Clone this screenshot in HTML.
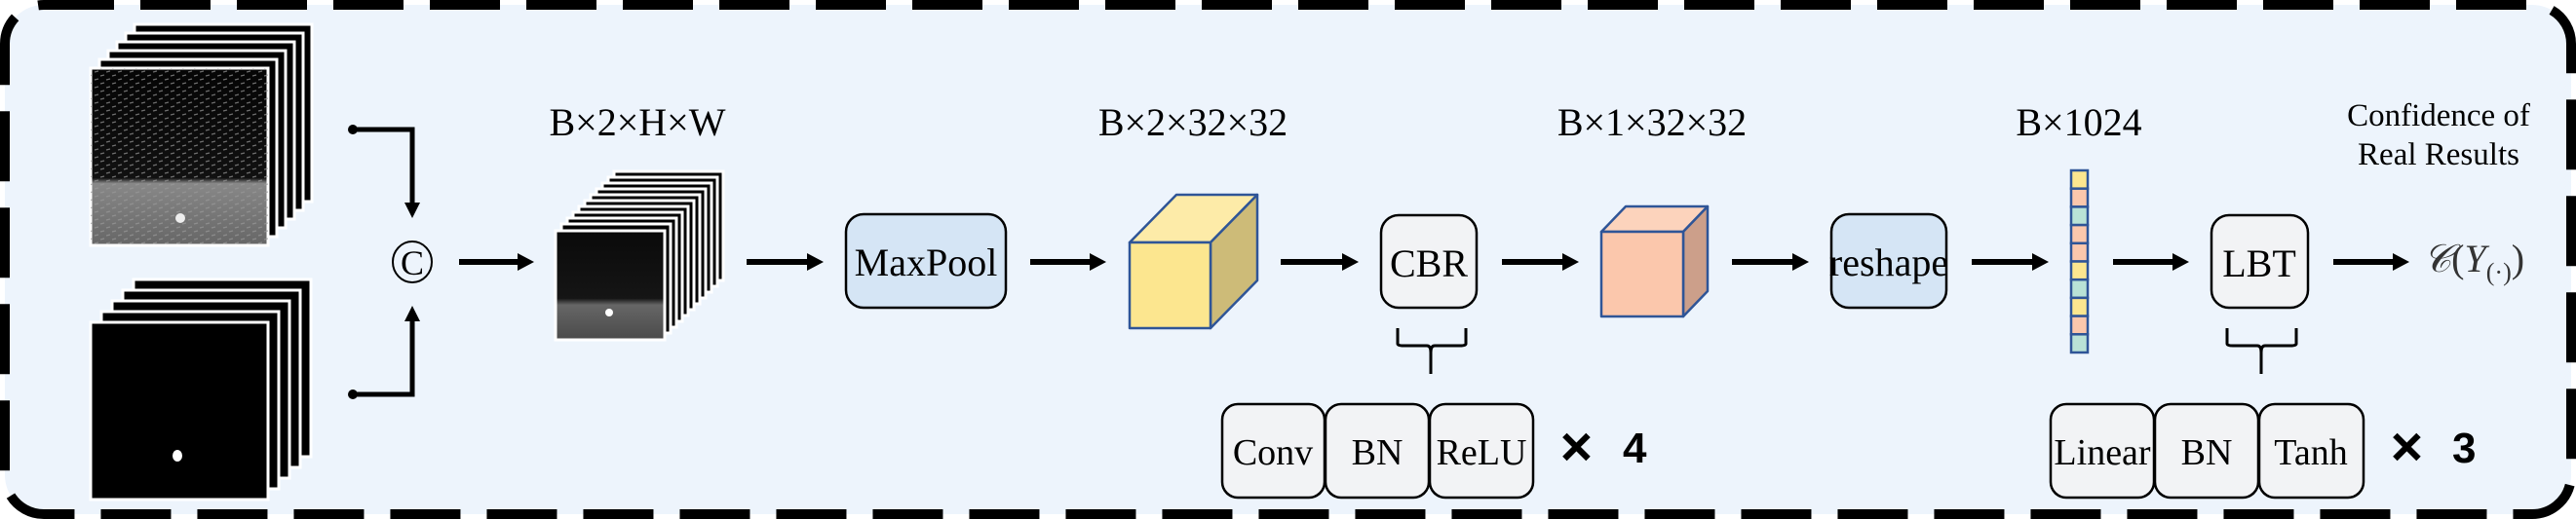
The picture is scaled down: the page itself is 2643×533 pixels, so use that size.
<!DOCTYPE html>
<html><head><meta charset="utf-8"><style>
html,body{margin:0;padding:0;background:#fff}
svg{display:block}
text{font-family:"Liberation Serif",serif;fill:#000}
</style></head><body>
<svg width="2643" height="533" viewBox="0 0 2643 533" xmlns="http://www.w3.org/2000/svg">
<defs>
<linearGradient id="g1" x1="0" y1="0" x2="0" y2="1">
<stop offset="0" stop-color="#050505"/><stop offset="0.62" stop-color="#111"/><stop offset="0.65" stop-color="#888"/><stop offset="1" stop-color="#666"/>
</linearGradient>
<linearGradient id="g2" x1="0" y1="0" x2="0" y2="1">
<stop offset="0" stop-color="#0a0a0a"/><stop offset="0.62" stop-color="#151515"/><stop offset="0.68" stop-color="#666"/><stop offset="1" stop-color="#4a4a4a"/>
</linearGradient>
<pattern id="tex" width="12" height="8" patternUnits="userSpaceOnUse">
<rect width="12" height="8" fill="none"/><path d="M1 2 L5 1 M7 6 L11 5" stroke="#999" stroke-width="1.2"/>
</pattern>
</defs>
<rect x="0" y="0" width="2643" height="533" fill="#fff"/>
<rect x="5" y="5" width="2633" height="523" rx="40" fill="#EDF4FC" stroke="#000" stroke-width="10" stroke-dasharray="72 27"/>

<!-- top stack -->
<g stroke="#fff" stroke-width="3" fill="#000">
<rect x="138" y="25" width="182" height="182"/>
<rect x="129" y="34" width="182" height="182"/>
<rect x="120" y="43" width="182" height="182"/>
<rect x="111" y="52" width="182" height="182"/>
<rect x="102" y="61" width="182" height="182"/>
<rect x="93" y="70" width="182" height="182" fill="url(#g1)"/>
</g>
<rect x="93" y="70" width="182" height="182" fill="url(#tex)" opacity="0.7"/>
<circle cx="185" cy="224" r="5" fill="#eee"/>

<!-- bottom stack -->
<g stroke="#fff" stroke-width="3" fill="#000">
<rect x="137" y="287" width="182" height="182"/>
<rect x="126" y="298" width="182" height="182"/>
<rect x="115" y="309" width="182" height="182"/>
<rect x="104" y="320" width="182" height="182"/>
<rect x="93" y="331" width="182" height="182"/>
</g>
<ellipse cx="182" cy="468" rx="5" ry="6" fill="#fff"/>

<!-- concat connectors -->
<g stroke="#000" stroke-width="5" fill="none">
<polyline points="362,133 423,133 423,210"/>
<polyline points="362,405 423,405 423,328"/>
</g>
<circle cx="362" cy="133" r="5"/><circle cx="362" cy="405" r="5"/>
<polygon points="415,208 431,208 423,224"/>
<polygon points="415,330 431,330 423,314"/>
<ellipse cx="423" cy="269" rx="20" ry="21" fill="none" stroke="#000" stroke-width="2"/>
<text x="423" y="282" font-size="36" text-anchor="middle">C</text>

<!-- arrows -->
<g stroke="#000" stroke-width="6">
<line x1="471" y1="269" x2="535" y2="269"/>
<line x1="766" y1="269" x2="832" y2="269"/>
<line x1="1057" y1="269" x2="1122" y2="269"/>
<line x1="1314" y1="269" x2="1381" y2="269"/>
<line x1="1541" y1="269" x2="1607" y2="269"/>
<line x1="1777" y1="269" x2="1843" y2="269"/>
<line x1="2023" y1="269" x2="2089" y2="269"/>
<line x1="2168" y1="269" x2="2233" y2="269"/>
<line x1="2394" y1="269" x2="2459" y2="269"/>
</g>
<g>
<polygon points="531,260 548,269 531,278"/>
<polygon points="828,260 845,269 828,278"/>
<polygon points="1118,260 1135,269 1118,278"/>
<polygon points="1377,260 1394,269 1377,278"/>
<polygon points="1603,260 1620,269 1603,278"/>
<polygon points="1839,260 1856,269 1839,278"/>
<polygon points="2085,260 2102,269 2085,278"/>
<polygon points="2229,260 2246,269 2229,278"/>
<polygon points="2455,260 2472,269 2455,278"/>
</g>

<!-- middle stack -->
<g stroke="#fff" stroke-width="3" fill="#000">
<rect x="630" y="176" width="112" height="112"/>
<rect x="624" y="182" width="112" height="112"/>
<rect x="618" y="188" width="112" height="112"/>
<rect x="612" y="194" width="112" height="112"/>
<rect x="606" y="200" width="112" height="112"/>
<rect x="600" y="206" width="112" height="112"/>
<rect x="594" y="212" width="112" height="112"/>
<rect x="588" y="218" width="112" height="112"/>
<rect x="582" y="224" width="112" height="112"/>
<rect x="576" y="230" width="112" height="112"/>
<rect x="570" y="237" width="112" height="112" fill="url(#g2)"/>
</g>
<circle cx="625" cy="321" r="4" fill="#fff"/>

<g font-size="40" text-anchor="middle">
<text x="654" y="139">B×2×H×W</text>
<text x="1224" y="139">B×2×32×32</text>
<text x="1695" y="139">B×1×32×32</text>
<text x="2133" y="139">B×1024</text>
</g>

<!-- MaxPool -->
<rect x="868" y="220" width="164" height="96" rx="18" fill="#D5E5F5" stroke="#000" stroke-width="2.5"/>
<text x="950" y="283" font-size="40" text-anchor="middle">MaxPool</text>

<!-- yellow cube -->
<g stroke="#2F5597" stroke-width="2.5" stroke-linejoin="round">
<polygon points="1159,249 1207,200 1290,200 1242,249" fill="#FDEBA8"/>
<polygon points="1242,249 1290,200 1290,288 1242,337" fill="#CDBB78"/>
<rect x="1159" y="249" width="83" height="88" fill="#FCE68F"/>
</g>

<!-- CBR -->
<rect x="1417" y="221" width="98" height="95" rx="18" fill="#F2F3F5" stroke="#000" stroke-width="2.5"/>
<text x="1466" y="284" font-size="40" text-anchor="middle">CBR</text>
<path d="M1434,337 V353 Q1434,355 1440,355 H1464 Q1468,355 1468,362 V384 M1468,362 Q1468,355 1472,355 H1498 Q1504,355 1504,353 V337" fill="none" stroke="#000" stroke-width="3"/>

<!-- pink cube -->
<g stroke="#2F5597" stroke-width="2.5" stroke-linejoin="round">
<polygon points="1643,238 1668,212 1752,212 1727,238" fill="#FCD3BC"/>
<polygon points="1727,238 1752,212 1752,299 1727,325" fill="#CC9F8A"/>
<rect x="1643" y="238" width="84" height="87" fill="#FBC7AC"/>
</g>

<!-- reshape -->
<rect x="1879" y="220" width="118" height="96" rx="18" fill="#D5E5F5" stroke="#000" stroke-width="2.5"/>
<text x="1938" y="283" font-size="40" text-anchor="middle">reshape</text>

<!-- vector -->
<g stroke="#2F5597" stroke-width="2.5">
<rect x="2125" y="175" width="17" height="18.7" fill="#FCE68F"/>
<rect x="2125" y="193.7" width="17" height="18.7" fill="#FBC7AC"/>
<rect x="2125" y="212.4" width="17" height="18.7" fill="#B9E2D6"/>
<rect x="2125" y="231.1" width="17" height="18.7" fill="#FBC7AC"/>
<rect x="2125" y="249.8" width="17" height="18.7" fill="#FBC7AC"/>
<rect x="2125" y="268.5" width="17" height="18.7" fill="#FCE68F"/>
<rect x="2125" y="287.2" width="17" height="18.7" fill="#B9E2D6"/>
<rect x="2125" y="305.9" width="17" height="18.7" fill="#FCE68F"/>
<rect x="2125" y="324.6" width="17" height="18.7" fill="#FBC7AC"/>
<rect x="2125" y="343.3" width="17" height="18.7" fill="#B9E2D6"/>
</g>

<!-- LBT -->
<rect x="2269" y="221" width="99" height="95" rx="18" fill="#F2F3F5" stroke="#000" stroke-width="2.5"/>
<text x="2318" y="284" font-size="40" text-anchor="middle">LBT</text>
<path d="M2285,337 V353 Q2285,355 2291,355 H2316 Q2320,355 2320,362 V384 M2320,362 Q2320,355 2324,355 H2350 Q2356,355 2356,353 V337" fill="none" stroke="#000" stroke-width="3"/>

<text x="2502" y="129" font-size="33" text-anchor="middle">Confidence of</text>
<text x="2502" y="169" font-size="33" text-anchor="middle">Real Results</text>
<text x="2486" y="279" font-size="40" style="fill:#333"><tspan font-style="italic">𝒞</tspan>(<tspan font-style="italic">Y</tspan><tspan font-size="26" dy="9">(·)</tspan><tspan dy="-9">)</tspan></text>

<!-- bottom boxes -->
<g fill="#F2F3F5" stroke="#000" stroke-width="2.5">
<rect x="1254" y="415" width="105" height="96" rx="16"/>
<rect x="1360" y="415" width="106" height="96" rx="16"/>
<rect x="1467" y="415" width="106" height="96" rx="16"/>
<rect x="2104" y="415" width="106" height="96" rx="16"/>
<rect x="2211" y="415" width="106" height="96" rx="16"/>
<rect x="2318" y="415" width="107" height="96" rx="16"/>
</g>
<g font-size="38" text-anchor="middle">
<text x="1306" y="477">Conv</text>
<text x="1413" y="477">BN</text>
<text x="1520" y="477">ReLU</text>
<text x="2157" y="477">Linear</text>
<text x="2264" y="477">BN</text>
<text x="2371" y="477">Tanh</text>
</g>
<g font-size="44">
<text x="1599" y="475" style="font-family:'Liberation Sans',sans-serif;stroke:#000;stroke-width:2">✕</text>
<text x="1665" y="475" style="font-family:'Liberation Sans',sans-serif;font-weight:bold">4</text>
<text x="2451" y="475" style="font-family:'Liberation Sans',sans-serif;stroke:#000;stroke-width:2">✕</text>
<text x="2516" y="475" style="font-family:'Liberation Sans',sans-serif;font-weight:bold">3</text>
</g>
</svg>
</body></html>
